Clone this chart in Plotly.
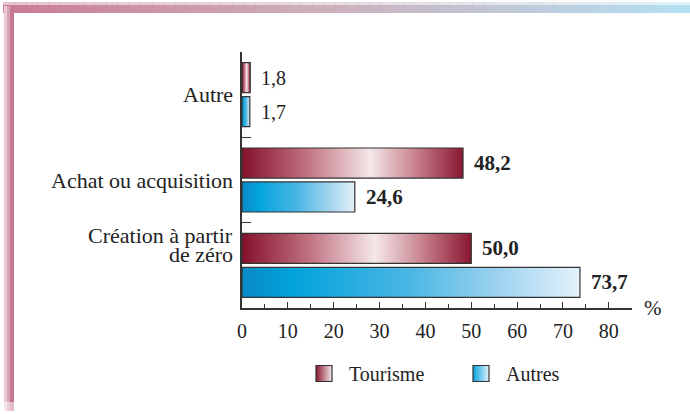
import plotly.graph_objects as go

# data, bottom to top as drawn
categories = ["Création à partir de zéro", "Achat ou acquisition", "Autre"]
category_labels = ["Création à partir\nde zéro", "Achat ou acquisition", "Autre"]
tourisme = [50.0, 48.2, 1.8]
autres = [73.7, 24.6, 1.7]
series_names = ["Tourisme", "Autres"]
x_ticks = [0, 10, 20, 30, 40, 50, 60, 70, 80]

FONT = "Liberation Serif, Times New Roman, serif"
TXT = "#222222"
EDGE = "#333333"
W, H = 690, 414
L, R, T, B = 242, 58, 52, 106

# bar placement inside each category slot (y units)
BAR_GAP = 0.023
BAR_H = 0.352
label_bold = [True, True, False]

tour_scale = [[0, "#85102c"], [0.3, "#c27484"], [0.58, "#f4e8e8"], [0.8, "#c47a88"], [1, "#8a1631"]]
autr_scale = [[0, "#0a8ac6"], [0.15, "#02a3dc"], [0.5, "#4cb7e4"], [0.75, "#9bd2ef"], [1, "#e4f2fb"]]


def px_x(p):
    return (p - L) / (W - L - R)


def px_y(p):
    return (H - B - p) / (H - T - B)


def fmt(v):
    return f"{v:.1f}".replace(".", ",")


fig = go.Figure()

for values, name, scale, lo, hi in [
    (tourisme, series_names[0], tour_scale, BAR_GAP, BAR_GAP + BAR_H),
    (autres, series_names[1], autr_scale, -BAR_GAP - BAR_H, -BAR_GAP),
]:
    for i, v in enumerate(values):
        fig.add_trace(
            go.Scatter(
                x=[0, v, v, 0, 0],
                y=[i + lo, i + lo, i + hi, i + hi, i + lo],
                mode="lines",
                fill="toself",
                fillgradient=dict(type="horizontal", colorscale=scale),
                line=dict(color=EDGE, width=1.2),
                showlegend=False,
                hoverinfo="skip",
            )
        )
        text = fmt(v)
        size = 20
        if label_bold[i]:
            text = f"<b>{text}</b>"
            size = 21
        fig.add_annotation(
            x=v, y=i + (lo + hi) / 2, xref="x", yref="y",
            text=text, showarrow=False, xanchor="left", xshift=9,
            font=dict(family=FONT, size=size, color=TXT),
        )

# legend entries
fig.add_trace(go.Scatter(
    x=[None], y=[None], mode="markers", name=series_names[0],
    marker=dict(symbol="square", size=16, color="#8a1631",
                gradient=dict(type="horizontal", color="#f4e8e8"),
                line=dict(color=EDGE, width=1.2)),
))
fig.add_trace(go.Scatter(
    x=[None], y=[None], mode="markers", name=series_names[1],
    marker=dict(symbol="square", size=16, color="#02a3dc",
                gradient=dict(type="horizontal", color="#e4f2fb"),
                line=dict(color=EDGE, width=1.2)),
))

# category labels
for i, lab in enumerate(category_labels):
    lines = lab.split("\n")
    shift = 20 if len(lines) > 1 else 0
    for k, line in enumerate(lines):
        fig.add_annotation(
            x=0, y=i, xref="paper", yref="y", text=line, showarrow=False,
            xanchor="right", yanchor="middle", xshift=-7,
            yshift=shift + 9.5 * (len(lines) - 1) - 19 * k,
            font=dict(family=FONT, size=22, color=TXT),
        )

fig.add_annotation(
    x=px_x(653), y=0, xref="paper", yref="paper", text="%", showarrow=False,
    xanchor="center", yanchor="middle", font=dict(family=FONT, size=21, color=TXT),
)

# decorative frame: top band and left band
top_stops = [(0.0, (196, 111, 138)), (0.45, (200, 166, 179)), (1.0, (172, 220, 240))]


def lerp_color(t):
    for (t0, c0), (t1, c1) in zip(top_stops[:-1], top_stops[1:]):
        if t0 <= t <= t1:
            f = (t - t0) / (t1 - t0)
            return "rgb(%d,%d,%d)" % tuple(round(a + (b - a) * f) for a, b in zip(c0, c1))
    return "rgb(172,220,240)"


n = 60
for k in range(n):
    x0 = 3 + (W - 3) * k / n
    x1 = 3 + (W - 3) * (k + 1) / n + 0.6
    col = lerp_color(k / (n - 1))
    fig.add_shape(type="rect", xref="paper", yref="paper", layer="below",
                  x0=px_x(x0), x1=px_x(x1), y0=px_y(13), y1=px_y(5),
                  fillcolor=col, line_width=0, opacity=0.9)
    fig.add_shape(type="rect", xref="paper", yref="paper", layer="below",
                  x0=px_x(x0), x1=px_x(x1), y0=px_y(5), y1=px_y(2),
                  fillcolor=col, line_width=0, opacity=0.4)

for xa, xb, col in [(4, 7, "#eccad5"), (7, 10, "#d9a3b5"), (10, 14, "#c4778f")]:
    fig.add_shape(type="rect", xref="paper", yref="paper", layer="below",
                  x0=px_x(xa), x1=px_x(xb), y0=px_y(402), y1=px_y(6),
                  fillcolor=col, line_width=0)
    fig.add_shape(type="rect", xref="paper", yref="paper", layer="below",
                  x0=px_x(xa), x1=px_x(xb), y0=px_y(411), y1=px_y(402),
                  fillcolor=col, line_width=0, opacity=0.5)

fig.update_xaxes(
    range=[0, 85.05], tickvals=x_ticks, ticks="inside", ticklen=6, tickwidth=1.2,
    tickcolor=EDGE, showline=True, linecolor=EDGE, linewidth=1.5, showgrid=False,
    zeroline=False, tickfont=dict(family=FONT, size=20, color=TXT),
    minor=dict(dtick=5, tick0=0, ticks="inside", ticklen=4, tickwidth=1.2, tickcolor=EDGE),
    ticklabelstandoff=4,
)
fig.update_yaxes(
    range=[-0.5, len(categories) - 0.5],
    tickvals=[i - 0.5 for i in range(len(categories) + 1)],
    ticks="inside", ticklen=9, tickwidth=1.2, tickcolor=EDGE,
    showticklabels=False, showline=True, linecolor=EDGE, linewidth=1.5,
    showgrid=False, zeroline=False,
)

fig.update_layout(
    width=W, height=H,
    margin=dict(l=L, r=R, t=T, b=B, autoexpand=False),
    paper_bgcolor="white", plot_bgcolor="white",
    font=dict(family=FONT, size=20, color=TXT),
    legend=dict(orientation="h", x=px_x(299), y=px_y(354), xanchor="left", yanchor="top",
                font=dict(family=FONT, size=20, color=TXT), entrywidth=102,
                itemwidth=40),
)

# the page's default body margin would shift the figure by 8px
fig.write_html(
    "out.html",
    config={"displayModeBar": False},
    post_script="document.body.style.margin='0px';",
)
